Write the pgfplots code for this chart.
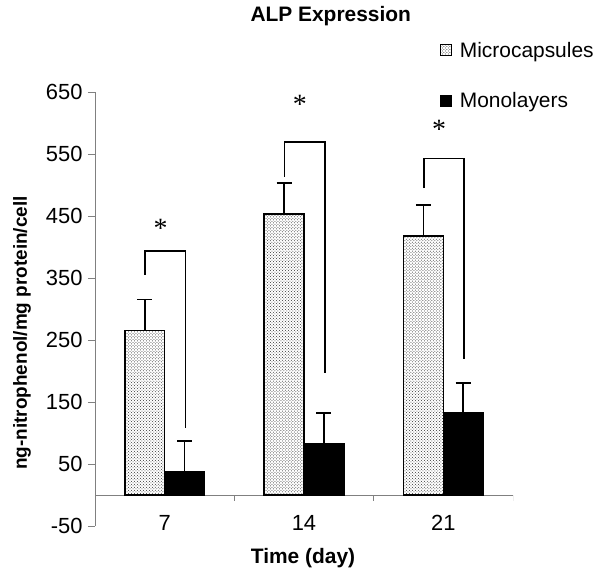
\documentclass[border=0pt]{standalone}
\usepackage{fontspec}
\setmainfont{Liberation Sans}
\newfontfamily\starfont{Liberation Serif}
\usepackage{pgfplots}
\pgfplotsset{compat=1.18}
\usetikzlibrary{patterns}

\definecolor{AxisGray}{RGB}{128,128,128}

\begin{document}
\begin{tikzpicture}
\path[use as bounding box] (-95bp,-48bp) rectangle (508bp,526bp);
\begin{axis}[
    at={(0,0)}, anchor=south west,
    scale only axis, width=418bp, height=434bp,
    ymin=-50, ymax=650,
    xmin=-0.5, xmax=2.5,
    ytick={-50,50,...,650},
    xtick={0,1,2}, xticklabels={7,14,21},
    axis y line*=left, axis x line*=bottom,
    x axis line style={draw=none},
    y axis line style={AxisGray, line width=1pt},
    xtick style={draw=none},
    ytick style={AxisGray, line width=1pt},
    tick align=outside, major tick length=7bp,
    /pgf/number format/assume math mode=true,
    tick label style={font=\fontsize{22}{24}\selectfont},
    yticklabel style={xshift=-2bp},
    xticklabel style={anchor=center, yshift=10bp},
    ybar=0pt, bar width=0.285,
    title={ALP Expression},
    title style={at={(axis description cs:0.3636,1.16)}, anchor=west,
                 font=\bfseries\fontsize{21}{23}\selectfont},
    xlabel={Time (day)},
    xlabel style={at={(axis description cs:0.4976,-0.074)}, anchor=center,
                  font=\bfseries\fontsize{21}{23}\selectfont},
    ylabel={ng-nitrophenol/mg protein/cell},
    ylabel style={at={(axis description cs:-0.1746,0.4447)}, anchor=center, rotate=0,
                  font=\bfseries\fontsize{19}{21}\selectfont},
    legend style={at={(axis description cs:0.826,1.12)}, anchor=north west,
                  draw=none, fill=none, row sep=30bp, inner sep=0pt,
                  font=\fontsize{21}{23}\selectfont, legend cell align=left},
    legend image code/.code={
        \path[draw=none, fill=none, pattern=none] (0bp,0bp) -- (17bp,0bp);
        \draw[#1, line width=0.9pt] (0bp,-5.5bp) rectangle (11bp,5.5bp);},
    error bars/y dir=plus,
    error bars/y explicit,
    error bars/error bar style={black, line width=1.6pt},
    error bars/error mark options={rotate=90, black, line width=1.6pt, mark size=7.5bp},
]
% zero line with the category boundary ticks
\draw[AxisGray, line width=1pt] (axis cs:-0.5,0) -- (axis cs:2.5,0);
\pgfplotsinvokeforeach{-0.5,0.5,1.5,2.5}{
    \draw[AxisGray, line width=1pt] (axis cs:#1,0) -- ([yshift=-6bp]axis cs:#1,0);
}
\addplot[draw=black, line width=1.6pt, pattern=crosshatch dots, pattern color=black!80]
    coordinates {
        (0,265) +- (0,50)
        (1,453) +- (0,50)
        (2,418) +- (0,50)
    };
\addplot[draw=black, fill=black, line width=1.6pt]
    coordinates {
        (0,38)  +- (0,49)
        (1,82)  +- (0,50)
        (2,132) +- (0,49)
    };
\legend{Microcapsules, Monolayers}
% significance brackets
\draw[black, line width=1.6pt] (axis cs:-0.14,355) |- (axis cs:0.15,394) -- (axis cs:0.15,108);
\draw[black, line width=1.6pt] (axis cs:0.86,513) |- (axis cs:1.15,569) -- (axis cs:1.15,196);
\draw[black, line width=1.6pt] (axis cs:1.86,495) |- (axis cs:2.15,543) -- (axis cs:2.15,219);
\node[font=\starfont\fontsize{28}{28}\selectfont] at (axis cs:-0.03,430) {*};
\node[font=\starfont\fontsize{28}{28}\selectfont] at (axis cs:0.97,630) {*};
\node[font=\starfont\fontsize{28}{28}\selectfont] at (axis cs:1.97,590) {*};
\end{axis}
\end{tikzpicture}
\end{document}
